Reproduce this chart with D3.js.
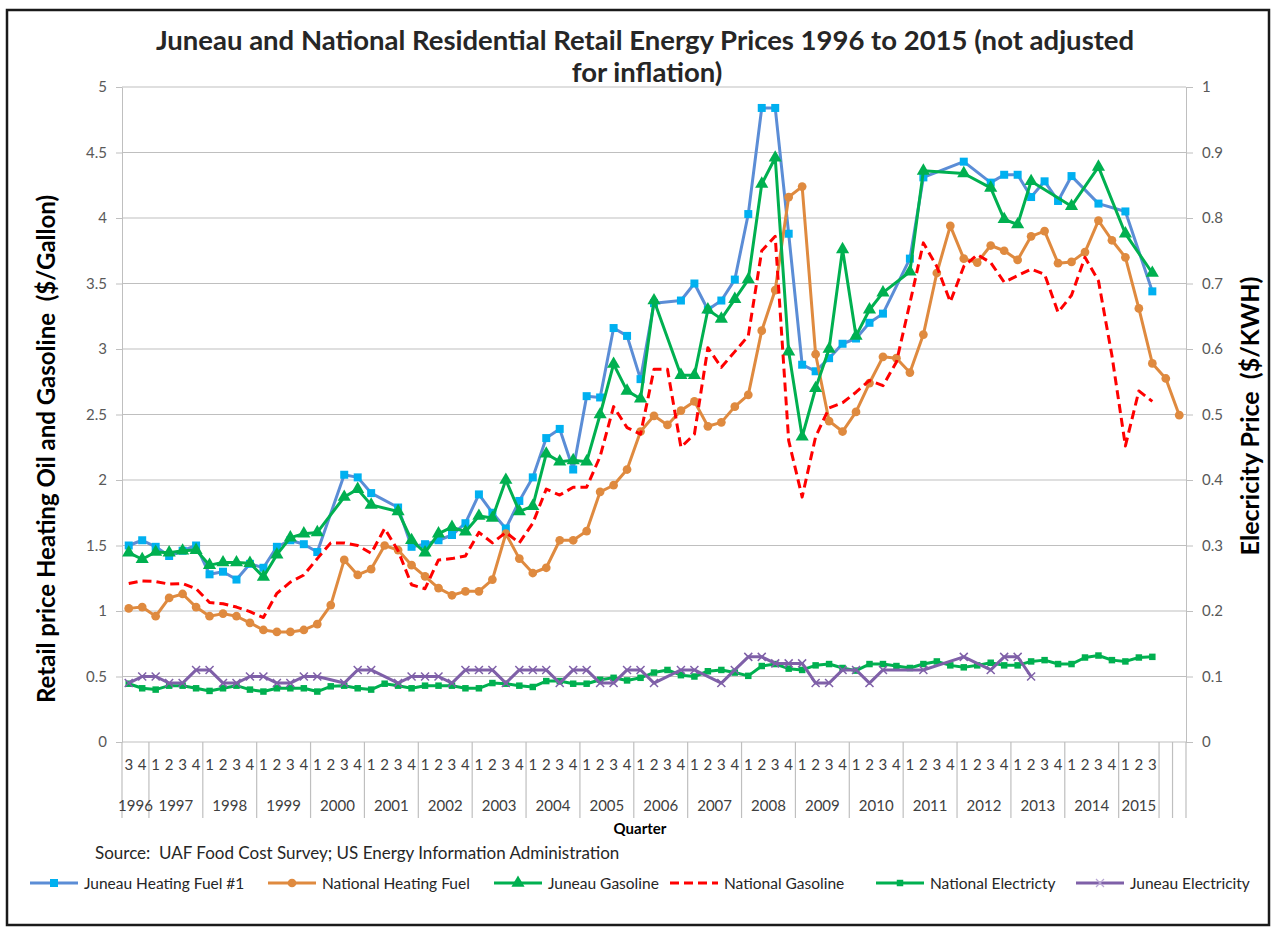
<html>

<head>
  <style>
    body {
      padding: 0px;
      margin: 0px;
      background-color: white;
    }

    svg text {
      font-family: Lato, "Open Sans", sans-serif;
    }

    .axis path,
    .axis line {
      stroke: #bfbfbf;
    }

    .axis text {
      fill: #595959;
      font-size: 15px;
    }
  </style>
</head>

<body>
  <div id="chart"></div>
  <script src="https://cdnjs.cloudflare.com/ajax/libs/d3/7.8.5/d3.min.js"></script>
  <script>
    // category axis: year groups and the quarter labels inside each group
    var yearLabels = ["1996", "1997", "1998", "1999", "2000", "2001", "2002", "2003", "2004", "2005",
      "2006", "2007", "2008", "2009", "2010", "2011", "2012", "2013", "2014", "2015", "", ""];
    var quarterLabels = [
      ["3", "4"],
      ["1", "2", "3", "4"], ["1", "2", "3", "4"], ["1", "2", "3", "4"], ["1", "2", "3", "4"],
      ["1", "2", "3", "4"], ["1", "2", "3", "4"], ["1", "2", "3", "4"], ["1", "2", "3", "4"],
      ["1", "2", "3", "4"], ["1", "2", "3", "4"], ["1", "2", "3", "4"], ["1", "2", "3", "4"],
      ["1", "2", "3", "4"], ["1", "2", "3", "4"], ["1", "2", "3", "4"], ["1", "2", "3", "4"],
      ["1", "2", "3", "4"], ["1", "2", "3", "4"],
      ["1", "2", "3"],
      [""],
      [""]
    ];

    var leftTicks = [0, 0.5, 1, 1.5, 2, 2.5, 3, 3.5, 4, 4.5, 5];
    var rightTicks = [0, 0.1, 0.2, 0.3, 0.4, 0.5, 0.6, 0.7, 0.8, 0.9, 1];

    // $/gallon, one value per quarter from 1996 Q3 (null = no survey that quarter)
    var juneauHeatingFuel = [
      1.50, 1.54, 1.49, 1.42, 1.46, 1.50, 1.28, 1.30, 1.24, 1.36,
      1.33, 1.49, 1.54, 1.51, 1.45, null, 2.04, 2.02, 1.90, null,
      1.79, 1.49, 1.51, 1.54, 1.58, 1.67, 1.89, 1.75, 1.63, 1.84,
      2.02, 2.32, 2.39, 2.08, 2.64, 2.63, 3.16, 3.10, 2.77, 3.35,
      null, 3.37, 3.50, 3.30, 3.37, 3.53, 4.03, 4.84, 4.84, 3.88,
      2.88, 2.83, 2.93, 3.04, 3.08, 3.20, 3.27, null, 3.69, 4.31,
      null, null, 4.43, null, 4.27, 4.33, 4.33, 4.16, 4.28, 4.13,
      4.32, null, 4.11, null, 4.05, null, 3.44, null, null
    ];
    var nationalHeatingFuel = [
      1.02, 1.03, 0.96, 1.10, 1.13, 1.03, 0.96, 0.98, 0.96, 0.91,
      0.855, 0.84, 0.84, 0.855, 0.90, 1.045, 1.39, 1.275, 1.32, 1.50,
      1.465, 1.35, 1.265, 1.175, 1.12, 1.15, 1.15, 1.24, 1.59, 1.40,
      1.29, 1.33, 1.54, 1.54, 1.61, 1.91, 1.96, 2.08, 2.37, 2.49,
      2.42, 2.53, 2.60, 2.41, 2.44, 2.56, 2.65, 3.14, 3.45, 4.16,
      4.24, 2.96, 2.45, 2.37, 2.52, 2.74, 2.94, 2.93, 2.82, 3.11,
      3.58, 3.94, 3.69, 3.66, 3.79, 3.75, 3.68, 3.86, 3.90, 3.655,
      3.665, 3.74, 3.98, 3.83, 3.70, 3.31, 2.89, 2.775, 2.495
    ];
    var juneauGasoline = [
      1.445, 1.395, 1.45, 1.445, 1.46, 1.465, 1.35, 1.37, 1.37, 1.365,
      1.26, 1.43, 1.56, 1.59, 1.60, null, 1.87, 1.93, 1.81, null,
      1.76, 1.54, 1.445, 1.59, 1.64, 1.605, 1.725, 1.71, 2.00, 1.76,
      1.80, 2.20, 2.14, 2.15, 2.14, 2.50, 2.885, 2.68, 2.62, 3.37,
      null, 2.80, 2.80, 3.30, 3.23, 3.38, 3.53, 4.26, 4.46, 2.98,
      2.33, 2.70, 3.00, 3.76, 3.10, 3.30, 3.43, null, 3.59, 4.36,
      null, null, 4.34, null, 4.23, 3.99, 3.95, 4.28, null, null,
      4.09, null, 4.39, null, 3.88, null, 3.58, null, null
    ];
    var nationalGasoline = [
      1.21, 1.23, 1.225, 1.205, 1.21, 1.17, 1.065, 1.055, 1.03, 0.995,
      0.95, 1.135, 1.22, 1.275, 1.40, 1.52, 1.52, 1.50, 1.44, 1.63,
      1.46, 1.20, 1.17, 1.39, 1.40, 1.42, 1.60, 1.52, 1.60, 1.52,
      1.67, 1.93, 1.885, 1.945, 1.945, 2.18, 2.56, 2.40, 2.35, 2.845,
      2.845, 2.25, 2.35, 3.01, 2.86, 2.98, 3.10, 3.75, 3.86, 2.30,
      1.87, 2.33, 2.55, 2.59, 2.67, 2.76, 2.72, 2.90, 3.35, 3.81,
      3.63, 3.36, 3.63, 3.72, 3.66, 3.51, 3.56, 3.61, 3.57, 3.28,
      3.41, 3.70, 3.52, 2.95, 2.26, 2.68, 2.60, null, null
    ];
    // $/KWH (right axis)
    var nationalElectricity = [
      0.089, 0.082, 0.080, 0.086, 0.086, 0.082, 0.078, 0.082, 0.086, 0.080,
      0.077, 0.082, 0.082, 0.082, 0.077, 0.085, 0.086, 0.082, 0.080, 0.089,
      0.086, 0.082, 0.086, 0.086, 0.086, 0.082, 0.082, 0.090, 0.089, 0.086,
      0.084, 0.093, 0.093, 0.089, 0.089, 0.095, 0.098, 0.094, 0.098, 0.106,
      0.110, 0.102, 0.100, 0.108, 0.110, 0.106, 0.101, 0.116, 0.119, 0.112,
      0.110, 0.117, 0.119, 0.113, 0.109, 0.119, 0.119, 0.116, 0.113, 0.119,
      0.123, 0.117, 0.114, 0.117, 0.121, 0.117, 0.117, 0.123, 0.125, 0.119,
      0.119, 0.129, 0.132, 0.125, 0.123, 0.129, 0.130, null, null
    ];
    var juneauElectricity = [
      0.09, 0.10, 0.10, 0.09, 0.09, 0.11, 0.11, 0.09, 0.09, 0.10,
      0.10, 0.09, 0.09, 0.10, 0.10, null, 0.09, 0.11, 0.11, null,
      0.09, 0.10, 0.10, 0.10, 0.09, 0.11, 0.11, 0.11, 0.09, 0.11,
      0.11, 0.11, 0.09, 0.11, 0.11, 0.09, 0.09, 0.11, 0.11, 0.09,
      null, 0.11, 0.11, null, 0.09, 0.11, 0.13, 0.13, 0.12, 0.12,
      0.12, 0.09, 0.09, 0.11, 0.11, 0.09, 0.11, null, null, 0.11,
      null, null, 0.13, null, 0.11, 0.13, 0.13, 0.10, null, null,
      null, null, null, null, null, null, null, null, null
    ];

    var width = 1275,
      height = 927,
      plotLeft = 122,
      plotRight = 1186,
      plotTop = 87,
      plotBottom = 742;

    var quarterCount = d3.sum(quarterLabels, function(q) { return q.length; });

    var x = d3.scaleBand()
      .domain(d3.range(quarterCount))
      .range([plotLeft, plotRight]);
    var cx = function(i) {
      return x(i) + x.bandwidth() / 2;
    };
    var yLeft = d3.scaleLinear().domain([0, 5]).range([plotBottom, plotTop]);
    var yRight = d3.scaleLinear().domain([0, 1]).range([plotBottom, plotTop]);

    var svg = d3.select('#chart').append('svg')
      .attr('width', width)
      .attr('height', height);

    svg.append('rect')
      .attr('width', width)
      .attr('height', height)
      .attr('fill', 'white');

    // chart frame
    svg.append('rect')
      .attr('x', 7)
      .attr('y', 10)
      .attr('width', 1262)
      .attr('height', 915)
      .attr('fill', 'none')
      .attr('stroke', '#1a1a1a')
      .attr('stroke-width', 2.5);

    // title
    var title = svg.append('text')
      .attr('text-anchor', 'middle')
      .attr('font-size', '27.5px')
      .attr('font-weight', 'bold')
      .attr('fill', '#262626');
    title.append('tspan').attr('x', 645).attr('y', 50)
      .text('Juneau and National Residential Retail Energy Prices 1996 to 2015 (not adjusted');
    title.append('tspan').attr('x', 647).attr('y', 82)
      .text('for inflation)');

    // gridlines
    svg.append('g')
      .selectAll('line')
      .data(leftTicks)
      .enter()
      .append('line')
      .attr('x1', plotLeft)
      .attr('x2', plotRight)
      .attr('y1', function(d) { return yLeft(d); })
      .attr('y2', function(d) { return yLeft(d); })
      .attr('stroke', '#bfbfbf')
      .attr('stroke-width', 1.2);

    svg.append('g')
      .attr('class', 'axis')
      .attr('transform', 'translate(' + plotLeft + ',0)')
      .call(d3.axisLeft(yLeft).tickValues(leftTicks).tickSizeInner(6).tickSizeOuter(0).tickPadding(9)
        .tickFormat(function(d) { return String(d); }));

    svg.append('g')
      .attr('class', 'axis')
      .attr('transform', 'translate(' + plotRight + ',0)')
      .call(d3.axisRight(yRight).tickValues(rightTicks).tickSizeInner(7).tickSizeOuter(0).tickPadding(9)
        .tickFormat(function(d) { return String(d); }));

    // multi-level category axis
    var groups = [];
    var start = 0;
    quarterLabels.forEach(function(q, gi) {
      groups.push({ year: yearLabels[gi], start: start, end: start + q.length });
      q.forEach(function(label, k) {
        svg.append('text')
          .attr('x', cx(start + k))
          .attr('y', 770)
          .attr('text-anchor', 'middle')
          .attr('font-size', '15px')
          .attr('fill', '#404040')
          .text(label);
      });
      start += q.length;
    });

    var xAxis = svg.append('g');
    xAxis.selectAll('line')
      .data([0].concat(groups.map(function(g) { return g.end; })))
      .enter()
      .append('line')
      .attr('x1', function(d) { return d < quarterCount ? x(d) : plotRight; })
      .attr('x2', function(d) { return d < quarterCount ? x(d) : plotRight; })
      .attr('y1', plotBottom)
      .attr('y2', 818)
      .attr('stroke', '#bfbfbf')
      .attr('stroke-width', 1.2);
    xAxis.selectAll('text')
      .data(groups)
      .enter()
      .append('text')
      .attr('x', function(g) { return (x(g.start) + x(g.end - 1) + x.bandwidth()) / 2; })
      .attr('y', 811)
      .attr('text-anchor', 'middle')
      .attr('font-size', '15px')
      .attr('fill', '#404040')
      .text(function(g) { return g.year; });

    // axis titles
    svg.append('text')
      .attr('transform', 'translate(47,449) rotate(-90)')
      .attr('dy', '0.35em')
      .attr('text-anchor', 'middle')
      .attr('font-size', '24px')
      .attr('font-weight', 'bold')
      .attr('fill', '#000')
      .style('white-space', 'pre')
      .text('Retail price Heating Oil and Gasoline  ($/Gallon)');

    svg.append('text')
      .attr('transform', 'translate(1250,416) rotate(-90)')
      .attr('dy', '0.35em')
      .attr('text-anchor', 'middle')
      .attr('font-size', '25px')
      .attr('font-weight', 'bold')
      .attr('fill', '#000')
      .style('white-space', 'pre')
      .text('Elecricity Price  ($/KWH)');

    svg.append('text')
      .attr('x', 640)
      .attr('y', 834)
      .attr('text-anchor', 'middle')
      .attr('font-size', '15px')
      .attr('font-weight', 'bold')
      .attr('fill', '#000')
      .text('Quarter');

    svg.append('text')
      .attr('x', 95)
      .attr('y', 859)
      .attr('font-size', '17px')
      .attr('fill', '#262626')
      .style('white-space', 'pre')
      .text('Source:  UAF Food Cost Survey; US Energy Information Administration');

    // series
    var crossPath = 'M-4,-4L4,4M-4,4L4,-4';
    var series = [
      { name: 'Juneau Heating Fuel #1', values: juneauHeatingFuel, y: yLeft, line: '#5b8dd6', fill: '#00b0f0', marker: d3.symbolSquare, size: 64 },
      { name: 'National Heating Fuel', values: nationalHeatingFuel, y: yLeft, line: '#df8a3f', fill: '#df8a3f', marker: d3.symbolCircle, size: 60 },
      { name: 'Juneau Gasoline', values: juneauGasoline, y: yLeft, line: '#00b050', fill: '#00b050', marker: d3.symbolTriangle, size: 75 },
      { name: 'National Gasoline', values: nationalGasoline, y: yLeft, line: '#ff0000', dash: '9,5' },
      { name: 'National Electricty', values: nationalElectricity, y: yRight, line: '#00b050', fill: '#00b050', marker: d3.symbolSquare, size: 42 },
      { name: 'Juneau Electricity', values: juneauElectricity, y: yRight, line: '#7f60a8', cross: true }
    ];

    series.forEach(function(s) {
      var pts = s.values
        .map(function(v, i) { return { i: i, v: v }; })
        .filter(function(d) { return d.v !== null; });

      var line = d3.line()
        .x(function(d) { return cx(d.i); })
        .y(function(d) { return s.y(d.v); });

      svg.append('path')
        .datum(pts)
        .attr('d', line)
        .attr('fill', 'none')
        .attr('stroke', s.line)
        .attr('stroke-width', 3)
        .attr('stroke-linejoin', 'round')
        .attr('stroke-dasharray', s.dash || null);

      if (s.marker) {
        svg.append('g')
          .selectAll('path')
          .data(pts)
          .enter()
          .append('path')
          .attr('transform', function(d) { return 'translate(' + cx(d.i) + ',' + s.y(d.v) + ')'; })
          .attr('d', d3.symbol().type(s.marker).size(s.size))
          .attr('fill', s.fill);
      }
      if (s.cross) {
        svg.append('g')
          .selectAll('path')
          .data(pts)
          .enter()
          .append('path')
          .attr('transform', function(d) { return 'translate(' + cx(d.i) + ',' + s.y(d.v) + ')'; })
          .attr('d', crossPath)
          .attr('stroke', s.line)
          .attr('stroke-width', 1.5);
      }
    });

    // legend
    var legendTextX = [84, 322, 548, 724, 930, 1130];
    var legend = svg.append('g');
    series.forEach(function(s, k) {
      var tx = legendTextX[k];
      var ly = 883;
      legend.append('line')
        .attr('x1', tx - 54)
        .attr('x2', tx - 6)
        .attr('y1', ly)
        .attr('y2', ly)
        .attr('stroke', s.line)
        .attr('stroke-width', 3)
        .attr('stroke-dasharray', s.dash || null);
      if (s.marker) {
        legend.append('path')
          .attr('transform', 'translate(' + (tx - 30) + ',' + ly + ')')
          .attr('d', d3.symbol().type(s.marker).size(s.size))
          .attr('fill', s.fill);
      }
      if (s.cross) {
        legend.append('path')
          .attr('transform', 'translate(' + (tx - 30) + ',' + ly + ')')
          .attr('d', crossPath)
          .attr('stroke', '#b8a6d4')
          .attr('stroke-width', 1.2);
      }
      legend.append('text')
        .attr('x', tx)
        .attr('y', ly + 6)
        .attr('font-size', '15.5px')
        .attr('fill', '#262626')
        .text(s.name);
    });
  </script>
</body>

</html>
